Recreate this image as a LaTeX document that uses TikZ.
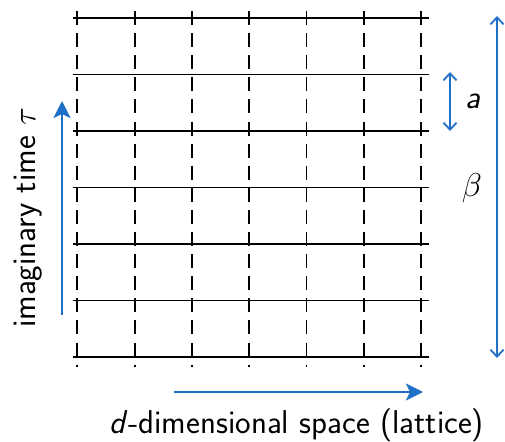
\RequirePackage{fix-cm}
\documentclass[tikz,border=0pt]{standalone}
\usepackage{fontspec}
\usetikzlibrary{arrows.meta}
\definecolor{myblue}{RGB}{33,112,200}
\begin{document}
\begin{tikzpicture}[x=1pt,y=-1pt,
  hline/.style={black,line width=1.4pt},
  vline/.style={black,line width=1.8pt,dash pattern=on 14pt off 8.1pt},
  bigarrow/.style={myblue,line width=2.8pt,-{Stealth[length=17pt,width=17pt,inset=4pt]}},
  dblarrow/.style={myblue,line width=1.8pt,{Straight Barb[length=7pt,width=13pt]}-{Straight Barb[length=7pt,width=13pt]}},
  lbl/.style={font=\sffamily\fontsize{33}{40}\selectfont, inner sep=0pt}]
\useasboundingbox (0,0) rectangle (505,441);
% grid
\foreach \i in {0,...,6}{
  \pgfmathsetmacro{\yy}{18+56.5*\i}
  \draw[hline] (72.7,\yy) -- (429,\yy);
  \pgfmathsetmacro{\xx}{77.3+57.3*\i}
  \draw[vline] (\xx,11) -- (\xx,367);
}
% time arrow
\coordinate (t0) at (62,315);
\coordinate (t1) at (62,101);
\draw[bigarrow] (t0) -- (t1);
\node[lbl, rotate=90] (tlab) at (28,218) {imaginary time $\tau$};
% space arrow
\coordinate (s0) at (174,392);
\coordinate (s1) at (423,392);
\draw[bigarrow] (s0) -- (s1);
\node[lbl, anchor=base] (slab) at (297,433) {\textit{d}-dimensional space (lattice)};
% beta
\coordinate (b0) at (497,16);
\coordinate (b1) at (497,358);
\draw[dblarrow] (b0) -- (b1);
\node[lbl] (blab) at (472,188) {$\beta$};
% a
\coordinate (a0) at (450,72);
\coordinate (a1) at (450,131);
\draw[dblarrow] (a0) -- (a1);
\node[lbl] (alab) at (473,101) {\textit{a}};
\end{tikzpicture}
\end{document}
